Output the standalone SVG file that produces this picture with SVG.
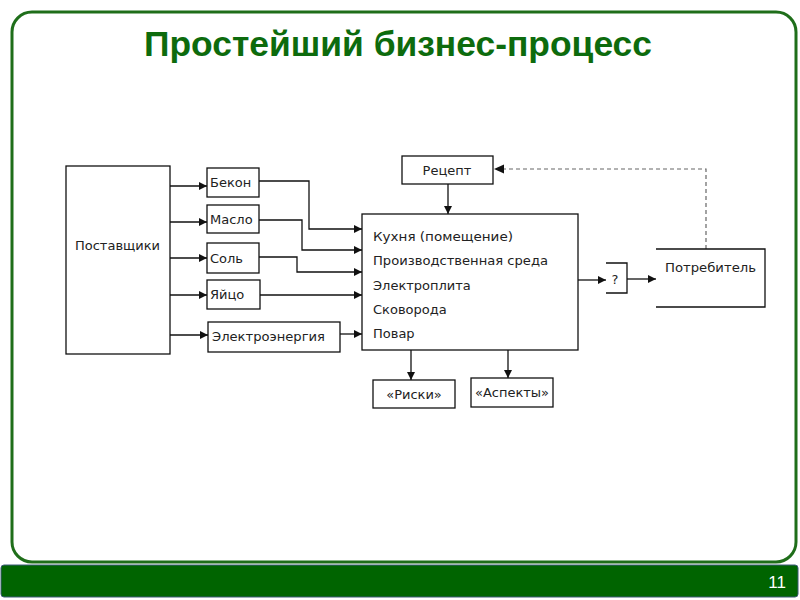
<svg xmlns="http://www.w3.org/2000/svg" width="800" height="600" viewBox="0 0 800 600">
<style>
.box{fill:#fff;stroke:#111;stroke-width:1.3}
.open{fill:none;stroke:#111;stroke-width:1.3}
.t{font-family:"DejaVu Sans",Verdana,sans-serif;font-size:13px;fill:#222}
.c{stroke:#111;stroke-width:1.3;fill:none}
.arr{marker-end:url(#ah)}
.dash{stroke:#666;stroke-width:1.2;fill:none;stroke-dasharray:4 3}
</style>
<defs>
<marker id="ah" viewBox="0 0 10 10" refX="10" refY="5" markerWidth="8" markerHeight="8" markerUnits="userSpaceOnUse" orient="auto">
<path d="M0,0 L10,5 L0,10 z" fill="#111"/>
</marker>
</defs>
<rect x="0" y="0" width="800" height="600" fill="#fff"/>
<rect x="12" y="12" width="784" height="550" rx="20" ry="20" fill="#fff" stroke="#1f6e1a" stroke-width="3"/>
<rect x="1" y="565" width="797" height="32" rx="3" fill="#006400" stroke="#3d5a78" stroke-width="1"/>
<text x="786" y="588" text-anchor="end" font-family="'Liberation Sans',Arial,sans-serif" font-size="17" fill="#fff">11</text>
<text x="398" y="56" text-anchor="middle" font-family="'Liberation Sans',Arial,sans-serif" font-size="35" font-weight="bold" fill="#0d6b0d" textLength="508" lengthAdjust="spacingAndGlyphs">Простейший бизнес-процесс</text>

<g id="connectors">
<path class="c arr" d="M170,186 H207"/>
<path class="c arr" d="M170,222 H207"/>
<path class="c arr" d="M170,258 H207"/>
<path class="c arr" d="M170,295 H207"/>
<path class="c arr" d="M170,335 H208"/>
<path class="c arr" d="M259,181 H309 V229 H362"/>
<path class="c arr" d="M259,220 H302 V250 H362"/>
<path class="c arr" d="M259,257 H297 V272 H362"/>
<path class="c arr" d="M260,295 H362"/>
<path class="c arr" d="M340,334 H362"/>
<path class="c arr" d="M448,184 V214"/>
<path class="c arr" d="M578,280 H606"/>
<path class="c arr" d="M627,279 H656"/>
<path class="c arr" d="M411,350 V380"/>
<path class="c arr" d="M508,350 V378"/>
<path class="dash" d="M706,249 V169 H496"/>
<path d="M494,169 L504,164.5 L504,173.5 z" fill="#111"/>
</g>

<g id="suppliers"><rect class="box" x="66" y="166" width="104" height="188"/><text class="t" x="75" y="250" textLength="85" lengthAdjust="spacingAndGlyphs">Поставщики</text></g>
<g id="bacon"><rect class="box" x="207" y="168" width="52" height="29"/><text class="t" x="210" y="187">Бекон</text></g>
<g id="butter"><rect class="box" x="207" y="205" width="52" height="28"/><text class="t" x="210" y="224">Масло</text></g>
<g id="salt"><rect class="box" x="207" y="243" width="52" height="30"/><text class="t" x="210" y="263">Соль</text></g>
<g id="egg"><rect class="box" x="207" y="280" width="53" height="29"/><text class="t" x="210" y="299">Яйцо</text></g>
<g id="power"><rect class="box" x="208" y="322" width="132" height="30"/><text class="t" x="212" y="341" textLength="113" lengthAdjust="spacingAndGlyphs">Электроэнергия</text></g>
<g id="recipe"><rect class="box" x="402" y="156" width="91" height="28"/><text class="t" x="447" y="175" text-anchor="middle">Рецепт</text></g>
<g id="kitchen"><rect class="box" x="362" y="214" width="216" height="136"/>
<text class="t" x="373" y="241" textLength="140" lengthAdjust="spacingAndGlyphs">Кухня (помещение)</text>
<text class="t" x="373" y="265" textLength="175" lengthAdjust="spacingAndGlyphs">Производственная среда</text>
<text class="t" x="373" y="290">Электроплита</text>
<text class="t" x="373" y="314">Сковорода</text>
<text class="t" x="373" y="338">Повар</text></g>
<g id="question"><path class="open" d="M606,263 H627 V293 H606"/><text class="t" x="615" y="284" text-anchor="middle">?</text></g>
<g id="consumer"><path class="open" d="M656,249 H765 V307 H656"/><text class="t" x="665" y="272" textLength="91" lengthAdjust="spacingAndGlyphs">Потребитель</text></g>
<g id="risks"><rect class="box" x="373" y="380" width="82" height="28"/><text class="t" x="414" y="399" text-anchor="middle">«Риски»</text></g>
<g id="aspects"><rect class="box" x="471" y="378" width="82" height="29"/><text class="t" x="512" y="397" text-anchor="middle">«Аспекты»</text></g>
</svg>
